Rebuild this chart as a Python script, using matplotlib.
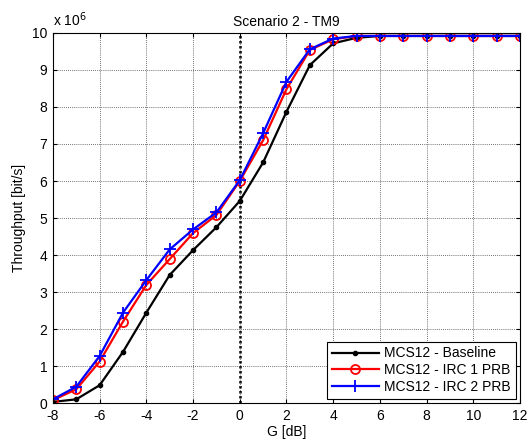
import matplotlib
matplotlib.use("Agg")
import matplotlib.pyplot as plt
import numpy as np

plt.rcParams['font.family'] = ['Liberation Sans', 'DejaVu Sans']
plt.rcParams['axes.unicode_minus'] = False

g_db = [-8, -7, -6, -5, -4, -3, -2, -1, 0, 1, 2, 3, 4, 5, 6, 7, 8, 9, 10, 11, 12]
baseline = [0.03, 0.10, 0.48, 1.38, 2.44, 3.46, 4.13, 4.75, 5.46, 6.50, 7.87, 9.13, 9.72,
            9.87, 9.92, 9.92, 9.92, 9.92, 9.92, 9.92, 9.92]
irc1 = [0.08, 0.37, 1.12, 2.20, 3.19, 3.89, 4.59, 5.08, 6.00, 7.10, 8.48, 9.54, 9.83,
        9.92, 9.92, 9.92, 9.92, 9.92, 9.92, 9.92, 9.92]
irc2 = [0.10, 0.44, 1.27, 2.44, 3.32, 4.15, 4.69, 5.15, 6.02, 7.29, 8.68, 9.56, 9.85,
        9.92, 9.92, 9.92, 9.92, 9.92, 9.92, 9.92, 9.92]
x_ticks = list(range(-8, 13, 2))
y_ticks = list(range(0, 11))

fs = 10

fig = plt.figure(figsize=(5.29, 4.44), dpi=100)
ax = fig.add_axes([0.100, 0.0923, 0.883, 0.8334])

ax.plot(g_db, baseline, color='black', lw=1.6, marker='.', ms=6, label='MCS12 - Baseline')
ax.plot(g_db, irc1, color='red', lw=1.6, marker='o', ms=6.5, mfc='none', mew=1.3,
        label='MCS12 - IRC 1 PRB')
ax.plot(g_db, irc2, color='blue', lw=1.6, marker='+', ms=8, mew=1.3,
        label='MCS12 - IRC 2 PRB')
ax.axvline(0, color='black', ls=(0, (1, 1)), lw=1.8, zorder=1)

ax.set_xlim(-8, 12)
ax.set_ylim(0, 10)
ax.set_xticks(x_ticks)
ax.set_yticks(y_ticks)
ax.grid(True, color='#444444', ls=(0, (1, 1.5)), lw=0.6)
ax.tick_params(direction='in', top=True, right=True, labelsize=fs, length=3, pad=4)
for s in ax.spines.values():
    s.set_linewidth(0.8)

ax.set_xlabel('G [dB]', fontsize=fs, labelpad=2)
ax.set_ylabel('Throughput [bit/s]', fontsize=fs, labelpad=4)
ax.set_title('Scenario 2 - TM9', fontsize=fs, pad=5)
ax.text(0.0, 1.012, r'x 10$^6$', transform=ax.transAxes, fontsize=fs, va='bottom', ha='left')

leg = ax.legend(loc='lower right', fontsize=fs, fancybox=False, framealpha=1,
                edgecolor='black', borderaxespad=0.3, handlelength=3.4,
                labelspacing=0.2, borderpad=0.35, handletextpad=0.4)
leg.get_frame().set_linewidth(0.8)

fig.savefig('out.png', dpi=100)
